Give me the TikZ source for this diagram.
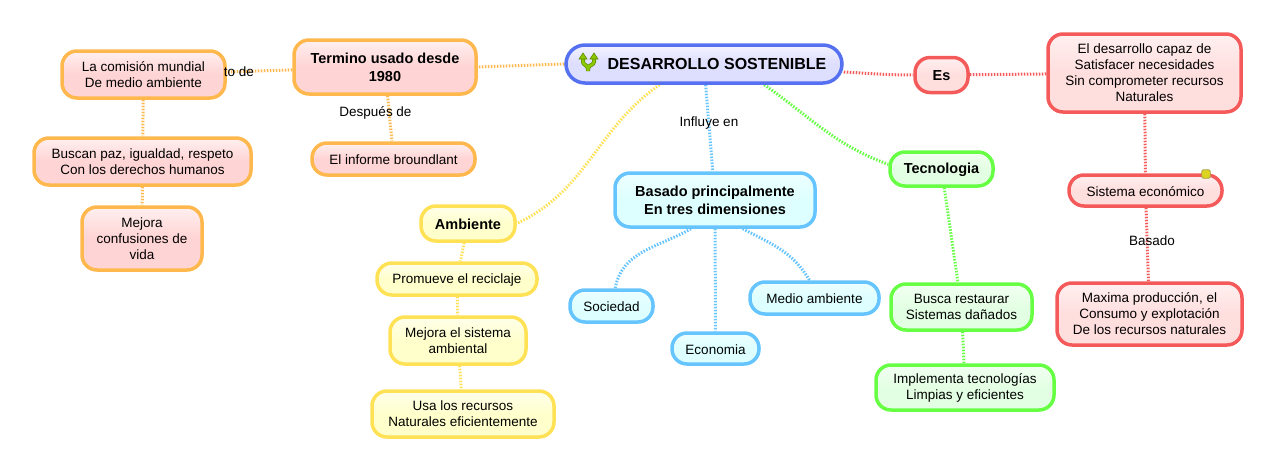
\documentclass[tikz,border=0pt]{standalone}
\usepackage{fontspec}
\setmainfont{Liberation Sans}
\usetikzlibrary{backgrounds}
\definecolor{mainline}{HTML}{5570F0}
\definecolor{orangeline}{HTML}{FFB84D}
\definecolor{redline}{HTML}{F55A5A}
\definecolor{yellowline}{HTML}{FFE156}
\definecolor{blueline}{HTML}{66C4FF}
\definecolor{greenline}{HTML}{66FF44}
\definecolor{iconfill}{HTML}{8CC800}
\definecolor{iconline}{HTML}{5E8A00}
\begin{document}
\begin{tikzpicture}[
  x=1pt, y=-1pt,
  bubble/.style={line width=3.5pt, rounded corners=15pt, align=center, inner sep=0pt, font=\fontsize{13.5}{16}\selectfont, execute at begin node={\rule{0pt}{12pt}}},
  title/.style={bubble, font=\fontsize{14.5}{18}\selectfont\bfseries},
  orangebox/.style={draw=orangeline, top color=red!6, bottom color=red!17, middle color=red!17},
  redbox/.style={draw=redline, top color=red!6, bottom color=red!13, middle color=red!13},
  yellowbox/.style={draw=yellowline, top color=yellow!8, bottom color=yellow!20, middle color=yellow!20},
  bluebox/.style={draw=blueline, top color=cyan!7, bottom color=cyan!13, middle color=cyan!13},
  greenbox/.style={draw=greenline, top color=green!5, bottom color=green!11, middle color=green!11},
  link/.style={line width=3pt, dash pattern=on 1.5pt off 1.5pt},
  tag/.style={font=\fontsize{13.5}{16}\selectfont, inner sep=0pt}
]
  \useasboundingbox (0,0) rectangle (1277,471);

  \node[title, draw=mainline, top color=blue!5, bottom color=blue!13, middle color=blue!13, minimum width=276pt, minimum height=38pt, rounded corners=19pt, font=\fontsize{16}{20}\selectfont\bfseries] (main) at (704,64) {\hspace*{26pt}DESARROLLO SOSTENIBLE};

  % left
  \node[title, orangebox, minimum width=182pt, minimum height=54pt] (termino) at (385,67) {Termino usado desde\\1980};
  \node[bubble, orangebox, minimum width=163pt, minimum height=32pt] (informe) at (393.5,159) {El informe broundlant};
  \node[bubble, orangebox, minimum width=163pt, minimum height=47pt] (comision) at (143.5,74.5) {La comisión mundial\\De medio ambiente};
  \node[bubble, orangebox, minimum width=217pt, minimum height=47pt] (buscan) at (142.5,161.5) {Buscan paz, igualdad, respeto\\Con los derechos humanos};
  \node[bubble, orangebox, minimum width=120pt, minimum height=63pt] (confusiones) at (142,238.5) {Mejora\\confusiones de\\vida};

  % right
  \node[title, redbox, minimum width=53pt, minimum height=35pt] (es) at (941.5,75) {Es};
  \node[bubble, redbox, minimum width=193pt, minimum height=78pt] (capaz) at (1144.5,73) {El desarrollo capaz de\\Satisfacer necesidades\\Sin comprometer recursos\\Naturales};
  \node[bubble, redbox, minimum width=153pt, minimum height=31pt] (sistema) at (1145.5,190.5) {Sistema económico};
  \node[bubble, redbox, minimum width=185pt, minimum height=62pt] (maxima) at (1149.5,314) {Maxima producción, el\\Consumo y explotación\\De los recursos naturales};
  \node[draw=black!40!yellow, fill=yellow!85!black, rounded corners=1.5pt, line width=.8pt, minimum size=8.5pt, inner sep=0pt] (nota) at (1206,174) {};

  % green
  \node[title, greenbox, minimum width=103pt, minimum height=34pt] (tecnologia) at (941.5,169) {Tecnologia};
  \node[bubble, greenbox, minimum width=141pt, minimum height=46pt] (restaurar) at (961.5,307) {Busca restaurar\\Sistemas dañados};
  \node[bubble, greenbox, minimum width=178pt, minimum height=45pt] (implementa) at (965,387.5) {Implementa tecnologías\\Limpias y eficientes};

  % blue
  \node[title, bluebox, minimum width=200pt, minimum height=54pt] (basado) at (715,200) {Basado principalmente\\En tres dimensiones};
  \node[bubble, bluebox, minimum width=83pt, minimum height=32pt] (sociedad) at (611.5,306) {Sociedad};
  \node[bubble, bluebox, minimum width=87pt, minimum height=31pt] (economia) at (715.5,348.5) {Economia};
  \node[bubble, bluebox, minimum width=129pt, minimum height=32pt] (medio) at (814.5,298) {Medio ambiente};

  % yellow
  \node[title, yellowbox, minimum width=94pt, minimum height=35pt] (ambiente) at (468,223.5) {Ambiente};
  \node[bubble, yellowbox, minimum width=160pt, minimum height=32pt] (promueve) at (457,279) {Promueve el reciclaje};
  \node[bubble, yellowbox, minimum width=136pt, minimum height=47pt] (sistemaamb) at (458,340.5) {Mejora el sistema\\ambiental};
  \node[bubble, yellowbox, minimum width=182pt, minimum height=46pt] (recursos) at (463,414) {Usa los recursos\\Naturales eficientemente};

  % icon
  \draw[line width=4pt, draw=iconline, line join=round] (583,58) -- (583,62) .. controls (583,65) and (588,65) .. (588,69) -- (588,71) (588,69) .. controls (588,65) and (594,65) .. (594,62) -- (594,58);
  \draw[line width=2.6pt, draw=iconfill, line join=round] (583,58) -- (583,62) .. controls (583,65) and (588,65) .. (588,69) -- (588,71) (588,69) .. controls (588,65) and (594,65) .. (594,62) -- (594,58);
  \filldraw[fill=iconfill, draw=iconline, line width=.6pt] (579,59) -- (583,53) -- (587,59) -- cycle (590,59) -- (594,53) -- (598,59) -- cycle;

  % labels
  \node[tag] (influye) at (709,123.5) {Influye en};
  \node[tag] (despues) at (375.5,112.5) {Después de};
  \node[tag] (basadotag) at (1152,241) {Basado};
  \node[tag] (puntode) at (239,71.5) {to de};

  \begin{scope}[on background layer]
    \draw[link, draw=orangeline] (main.west) -- (termino.east);
    \draw[link, draw=orangeline] (termino) -- (comision);
    \draw[link, draw=orangeline] (termino) -- (informe);
    \draw[link, draw=orangeline] (comision) -- (buscan);
    \draw[link, draw=orangeline] (buscan) -- (confusiones);
    \draw[link, draw=redline] (main.east) ++(0,8) to[out=-3,in=180] (es.west);
    \draw[link, draw=redline] (es) -- (capaz);
    \draw[link, draw=redline] (capaz) -- (sistema);
    \draw[link, draw=redline] (sistema) -- (maxima);
    \draw[link, draw=greenline] (main.-19) to[out=-35,in=160] (tecnologia.175);
    \draw[link, draw=greenline] (tecnologia) -- (restaurar);
    \draw[link, draw=greenline] (restaurar) -- (implementa);
    \draw[link, draw=blueline] (main) -- (basado);
    \draw[link, draw=blueline] (basado.-130) to[out=210,in=80] (sociedad.78);
    \draw[link, draw=blueline] (basado) -- (economia);
    \draw[link, draw=blueline] (basado.-46) to[out=-28,in=120] (medio.106);
    \draw[link, draw=yellowline] (main.-155) to[out=215,in=25] (ambiente.east);
    \draw[link, draw=yellowline] (ambiente) -- (promueve);
    \draw[link, draw=yellowline] (promueve) -- (sistemaamb);
    \draw[link, draw=yellowline] (sistemaamb) -- (recursos);
  \end{scope}
\end{tikzpicture}
\end{document}
